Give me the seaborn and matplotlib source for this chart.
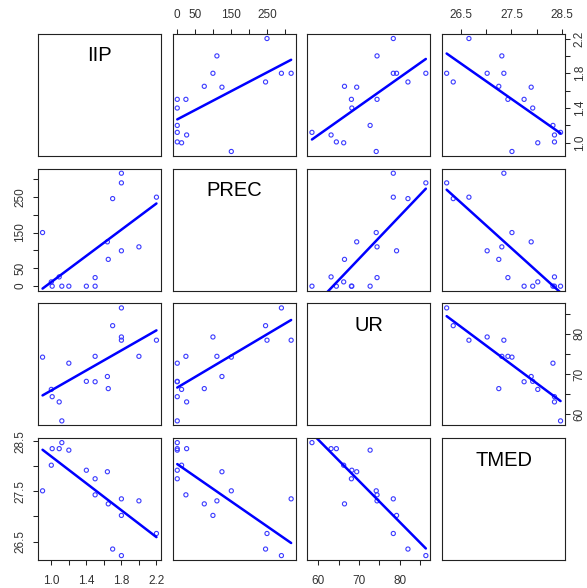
import matplotlib
matplotlib.use("Agg")
import matplotlib.pyplot as plt
import pandas as pd
import seaborn as sns

# Observations (one value per station/month)
IIP = [0.90, 1.01, 1.00, 1.09, 1.12, 1.20, 1.40, 1.50, 1.50, 1.64, 1.65,
       1.70, 1.80, 1.80, 1.80, 2.00, 2.20]
PREC = [150, 0, 12, 26, 0, 0, 0, 0, 24, 124, 75, 245, 316, 99, 289, 110, 249]
UR = [74.2, 64.4, 66.2, 63.1, 58.4, 72.7, 68.2, 68.1, 74.4, 69.4, 66.4,
      82.0, 78.4, 79.2, 86.4, 74.4, 78.4]
TMED = [27.51, 28.35, 28.02, 28.35, 28.47, 28.32, 27.92, 27.75, 27.43, 27.89,
        27.25, 26.35, 27.35, 27.02, 26.22, 27.31, 26.66]

variables = ["IIP", "PREC", "UR", "TMED"]

# Tick positions and the labels printed at them (blank = unlabeled tick)
IIP_TICKS = [1.0, 1.2, 1.4, 1.6, 1.8, 2.0, 2.2]
IIP_LABELS = ["1.0", "", "1.4", "", "1.8", "", "2.2"]
PREC_TICKS = [0, 50, 100, 150, 200, 250, 300]
PREC_LABELS = ["0", "50", "", "150", "", "250", ""]
UR_TICKS = [60, 65, 70, 75, 80, 85]
UR_LABELS = ["60", "", "70", "", "80", ""]
TMED_TICKS = [26.5, 27.0, 27.5, 28.0, 28.5]
TMED_LABELS = ["26.5", "", "27.5", "", "28.5"]

df = pd.DataFrame({"IIP": IIP, "PREC": PREC, "UR": UR, "TMED": TMED})
ticks = {
    "IIP": (IIP_TICKS, IIP_LABELS),
    "PREC": (PREC_TICKS, PREC_LABELS),
    "UR": (UR_TICKS, UR_LABELS),
    "TMED": (TMED_TICKS, TMED_LABELS),
}

sns.set_theme(style="white")
plt.rcParams["font.family"] = ["Liberation Sans", "DejaVu Sans"]
plt.rcParams.update({
    "xtick.direction": "out", "ytick.direction": "out",
    "xtick.major.size": 3.6, "ytick.major.size": 3.6,
    "xtick.major.width": 0.75, "ytick.major.width": 0.75,
    "xtick.color": "#222222", "ytick.color": "#222222",
    "xtick.labelcolor": "#333333", "ytick.labelcolor": "#333333",
    "xtick.labelsize": 8.5, "ytick.labelsize": 8.5,
})

W, H = 587, 588
fig = plt.figure(figsize=(W / 100, H / 100), dpi=100)
left0, top0 = 38, 34
pw, ph = 123, 122
step = 134.7


def padded(values):
    lo, hi = min(values), max(values)
    r = hi - lo
    return lo - 0.04 * r, hi + 0.04 * r


point_color = "#3a3aff"
line_color = "#0000ff"

for i, yv in enumerate(variables):
    for j, xv in enumerate(variables):
        x0 = left0 + j * step
        y0 = top0 + i * step
        ax = fig.add_axes([x0 / W, 1 - (y0 + ph) / H, pw / W, ph / H])
        if i == j:
            ax.text(0.5, 0.82, xv, transform=ax.transAxes, ha="center",
                    va="center", fontsize=14.5, color="black")
        else:
            sns.regplot(data=df, x=xv, y=yv, ax=ax, ci=None, truncate=True,
                        scatter_kws=dict(s=9, facecolors="none",
                                         color=point_color, linewidths=0.8,
                                         alpha=1),
                        line_kws=dict(color=line_color, linewidth=1.8))
        ax.set_xlim(padded(df[xv]))
        ax.set_ylim(padded(df[yv]))
        ax.set_xlabel("")
        ax.set_ylabel("")
        for sp in ax.spines.values():
            sp.set_visible(True)
            sp.set_color("#222222")
            sp.set_linewidth(0.8)

        tx, tl = ticks[xv]
        ty, tyl = ticks[yv]
        ax.set_xticks(tx)
        ax.set_xticklabels(tl)
        ax.set_yticks(ty)
        ax.set_yticklabels(tyl)
        ax.tick_params(which="both", bottom=False, top=False, left=False,
                       right=False, labelbottom=False, labeltop=False,
                       labelleft=False, labelright=False)
        if i == 0 and j % 2 == 1:
            ax.tick_params(axis="x", top=True, labeltop=True, pad=5.4)
        if i == 3 and j % 2 == 0:
            ax.tick_params(axis="x", bottom=True, labelbottom=True, pad=7.2)
        if j == 0 and i % 2 == 1:
            ax.tick_params(axis="y", left=True, labelleft=True, pad=4.7,
                           labelrotation=90)
        if j == 3 and i % 2 == 0:
            ax.tick_params(axis="y", right=True, labelright=True, pad=2.5,
                           labelrotation=90)
        for t in ax.get_yticklabels():
            t.set_va("center")

fig.savefig("out.png", dpi=100, facecolor="white")
